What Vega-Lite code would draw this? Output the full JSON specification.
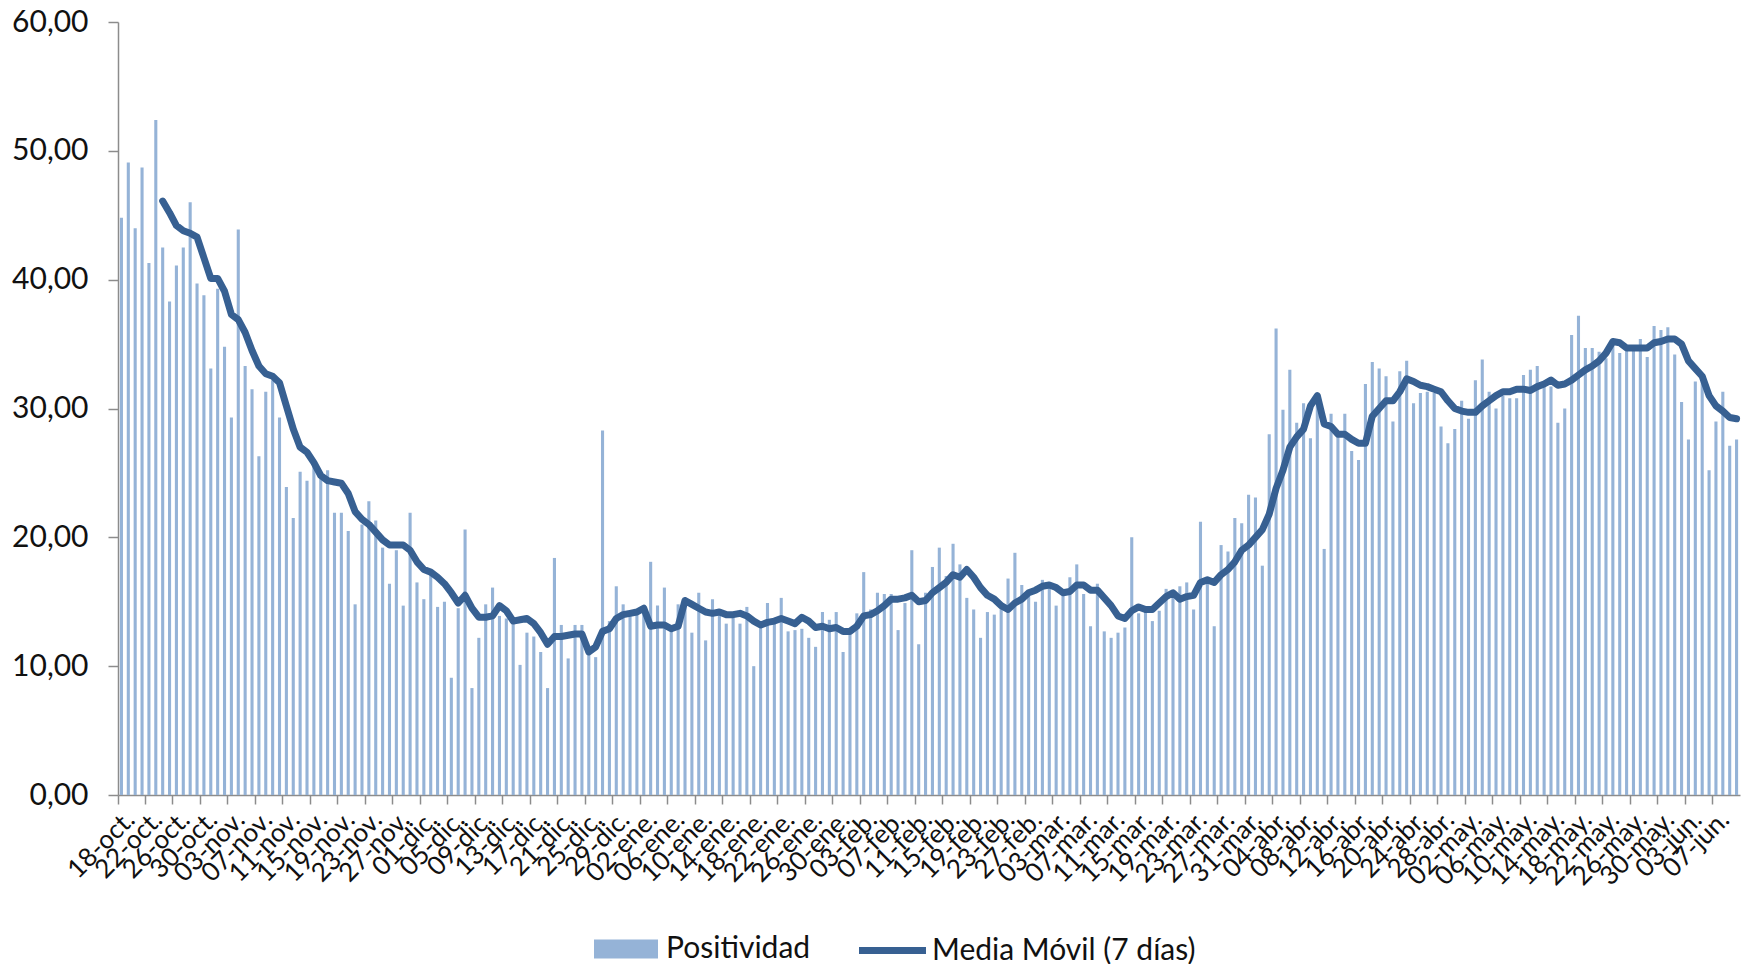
{
  "$schema": "https://vega.github.io/schema/vega-lite/v6.json",
  "width": 1622,
  "height": 773,
  "autosize": {"type": "none"},
  "padding": {"left": 118, "top": 22, "right": 8, "bottom": 169},
  "background": "white",
  "config": {
    "view": {"stroke": null},
    "font": "Lato",
    "legend": {"padding": 0, "labelLimit": 0},
    "axisY": {
      "title": null,
      "grid": false,
      "labelFont": "Lato",
      "labelFontSize": 30,
      "labelColor": "#111111",
      "labelPadding": 20,
      "tickColor": "#8c8c8c",
      "tickSize": 10,
      "tickWidth": 1.5,
      "domainColor": "#8c8c8c",
      "domainWidth": 1.5
    }
  },
  "data": {"values": [
    {"d":"18-oct.","p":44.8},{"d":"19-oct.","p":49.1},{"d":"20-oct.","p":44.0},{"d":"21-oct.","p":48.7},{"d":"22-oct.","p":41.3},{"d":"23-oct.","p":52.4},
    {"d":"24-oct.","p":42.5,"m":46.1},{"d":"25-oct.","p":38.3,"m":45.2},{"d":"26-oct.","p":41.1,"m":44.2},{"d":"27-oct.","p":42.5,"m":43.8},{"d":"28-oct.","p":46.0,"m":43.6},{"d":"29-oct.","p":39.7,"m":43.3},{"d":"30-oct.","p":38.8,"m":41.7},{"d":"31-oct.","p":33.1,"m":40.1},
    {"d":"01-nov.","p":39.3,"m":40.1},{"d":"02-nov.","p":34.8,"m":39.1},{"d":"03-nov.","p":29.3,"m":37.3},{"d":"04-nov.","p":43.9,"m":36.9},{"d":"05-nov.","p":33.3,"m":35.9},{"d":"06-nov.","p":31.5,"m":34.5},{"d":"07-nov.","p":26.3,"m":33.3},{"d":"08-nov.","p":31.3,"m":32.7},{"d":"09-nov.","p":32.2,"m":32.5},{"d":"10-nov.","p":29.3,"m":32.0},
    {"d":"11-nov.","p":23.9,"m":30.2},{"d":"12-nov.","p":21.5,"m":28.4},{"d":"13-nov.","p":25.1,"m":27.0},{"d":"14-nov.","p":24.4,"m":26.6},{"d":"15-nov.","p":25.5,"m":25.8},{"d":"16-nov.","p":24.6,"m":24.8},{"d":"17-nov.","p":25.2,"m":24.4},{"d":"18-nov.","p":21.9,"m":24.3},{"d":"19-nov.","p":21.9,"m":24.2},{"d":"20-nov.","p":20.5,"m":23.4},
    {"d":"21-nov.","p":14.8,"m":22.0},{"d":"22-nov.","p":21.0,"m":21.4},{"d":"23-nov.","p":22.8,"m":21.0},{"d":"24-nov.","p":21.3,"m":20.4},{"d":"25-nov.","p":19.2,"m":19.8},{"d":"26-nov.","p":16.4,"m":19.4},{"d":"27-nov.","p":19.0,"m":19.4},{"d":"28-nov.","p":14.7,"m":19.4},{"d":"29-nov.","p":21.9,"m":19.0},{"d":"30-nov.","p":16.5,"m":18.1},
    {"d":"01-dic.","p":15.2,"m":17.5},{"d":"02-dic.","p":17.1,"m":17.3},{"d":"03-dic.","p":14.6,"m":16.9},{"d":"04-dic.","p":15.0,"m":16.4},{"d":"05-dic.","p":9.1,"m":15.7},{"d":"06-dic.","p":14.5,"m":14.9},{"d":"07-dic.","p":20.6,"m":15.5},{"d":"08-dic.","p":8.3,"m":14.5},{"d":"09-dic.","p":12.2,"m":13.8},{"d":"10-dic.","p":14.8,"m":13.8},
    {"d":"11-dic.","p":16.1,"m":13.9},{"d":"12-dic.","p":13.9,"m":14.7},{"d":"13-dic.","p":13.7,"m":14.3},{"d":"14-dic.","p":13.3,"m":13.5},{"d":"15-dic.","p":10.1,"m":13.6},{"d":"16-dic.","p":12.6,"m":13.7},{"d":"17-dic.","p":12.3,"m":13.3},{"d":"18-dic.","p":11.1,"m":12.6},{"d":"19-dic.","p":8.3,"m":11.7},{"d":"20-dic.","p":18.4,"m":12.3},
    {"d":"21-dic.","p":13.2,"m":12.3},{"d":"22-dic.","p":10.6,"m":12.4},{"d":"23-dic.","p":13.2,"m":12.5},{"d":"24-dic.","p":13.2,"m":12.5},{"d":"25-dic.","p":11.2,"m":11.1},{"d":"26-dic.","p":10.7,"m":11.5},{"d":"27-dic.","p":28.3,"m":12.7},{"d":"28-dic.","p":13.5,"m":12.9},{"d":"29-dic.","p":16.2,"m":13.7},{"d":"30-dic.","p":14.8,"m":14.0},{"d":"31-dic.","p":14.3,"m":14.1},
    {"d":"01-ene.","p":14.0,"m":14.2},{"d":"02-ene.","p":14.5,"m":14.5},{"d":"03-ene.","p":18.1,"m":13.1},{"d":"04-ene.","p":14.7,"m":13.2},{"d":"05-ene.","p":16.1,"m":13.2},{"d":"06-ene.","p":13.1,"m":12.9},{"d":"07-ene.","p":14.8,"m":13.1},{"d":"08-ene.","p":15.2,"m":15.1},{"d":"09-ene.","p":12.6,"m":14.8},{"d":"10-ene.","p":15.7,"m":14.5},
    {"d":"11-ene.","p":12.0,"m":14.2},{"d":"12-ene.","p":15.2,"m":14.1},{"d":"13-ene.","p":14.1,"m":14.2},{"d":"14-ene.","p":13.3,"m":14.0},{"d":"15-ene.","p":13.9,"m":14.0},{"d":"16-ene.","p":13.3,"m":14.1},{"d":"17-ene.","p":14.6,"m":13.9},{"d":"18-ene.","p":10.0,"m":13.5},{"d":"19-ene.","p":13.3,"m":13.2},{"d":"20-ene.","p":14.9,"m":13.4},
    {"d":"21-ene.","p":13.3,"m":13.5},{"d":"22-ene.","p":15.3,"m":13.7},{"d":"23-ene.","p":12.7,"m":13.5},{"d":"24-ene.","p":12.8,"m":13.3},{"d":"25-ene.","p":12.9,"m":13.8},{"d":"26-ene.","p":12.2,"m":13.5},{"d":"27-ene.","p":11.5,"m":13.0},{"d":"28-ene.","p":14.2,"m":13.1},{"d":"29-ene.","p":13.6,"m":12.9},{"d":"30-ene.","p":14.2,"m":13.0},{"d":"31-ene.","p":11.1,"m":12.7},
    {"d":"01-feb.","p":12.9,"m":12.7},{"d":"02-feb.","p":14.1,"m":13.1},{"d":"03-feb.","p":17.3,"m":13.9},{"d":"04-feb.","p":14.4,"m":14.0},{"d":"05-feb.","p":15.7,"m":14.3},{"d":"06-feb.","p":15.6,"m":14.7},{"d":"07-feb.","p":15.6,"m":15.2},{"d":"08-feb.","p":12.8,"m":15.2},{"d":"09-feb.","p":14.9,"m":15.3},{"d":"10-feb.","p":19.0,"m":15.5},
    {"d":"11-feb.","p":11.7,"m":15.0},{"d":"12-feb.","p":15.7,"m":15.1},{"d":"13-feb.","p":17.7,"m":15.7},{"d":"14-feb.","p":19.2,"m":16.1},{"d":"15-feb.","p":17.0,"m":16.5},{"d":"16-feb.","p":19.5,"m":17.1},{"d":"17-feb.","p":17.9,"m":16.9},{"d":"18-feb.","p":15.3,"m":17.5},{"d":"19-feb.","p":14.4,"m":16.9},{"d":"20-feb.","p":12.2,"m":16.1},
    {"d":"21-feb.","p":14.2,"m":15.5},{"d":"22-feb.","p":14.0,"m":15.2},{"d":"23-feb.","p":14.7,"m":14.7},{"d":"24-feb.","p":16.8,"m":14.4},{"d":"25-feb.","p":18.8,"m":14.9},{"d":"26-feb.","p":16.3,"m":15.2},{"d":"27-feb.","p":15.7,"m":15.7},{"d":"28-feb.","p":15.0,"m":15.9},
    {"d":"01-mar.","p":16.7,"m":16.2},{"d":"02-mar.","p":16.5,"m":16.3},{"d":"03-mar.","p":14.7,"m":16.1},{"d":"04-mar.","p":15.9,"m":15.7},{"d":"05-mar.","p":16.9,"m":15.8},{"d":"06-mar.","p":17.9,"m":16.3},{"d":"07-mar.","p":15.6,"m":16.3},{"d":"08-mar.","p":13.1,"m":15.9},{"d":"09-mar.","p":16.4,"m":15.9},{"d":"10-mar.","p":12.7,"m":15.3},
    {"d":"11-mar.","p":12.2,"m":14.7},{"d":"12-mar.","p":12.6,"m":13.9},{"d":"13-mar.","p":13.0,"m":13.7},{"d":"14-mar.","p":20.0,"m":14.3},{"d":"15-mar.","p":14.1,"m":14.6},{"d":"16-mar.","p":14.3,"m":14.4},{"d":"17-mar.","p":13.5,"m":14.4},{"d":"18-mar.","p":14.3,"m":14.9},{"d":"19-mar.","p":16.0,"m":15.4},{"d":"20-mar.","p":15.9,"m":15.7},
    {"d":"21-mar.","p":16.2,"m":15.2},{"d":"22-mar.","p":16.5,"m":15.4},{"d":"23-mar.","p":14.4,"m":15.5},{"d":"24-mar.","p":21.2,"m":16.5},{"d":"25-mar.","p":16.5,"m":16.7},{"d":"26-mar.","p":13.1,"m":16.5},{"d":"27-mar.","p":19.4,"m":17.1},{"d":"28-mar.","p":18.9,"m":17.5},{"d":"29-mar.","p":21.5,"m":18.1},{"d":"30-mar.","p":21.1,"m":19.0},{"d":"31-mar.","p":23.3,"m":19.4},
    {"d":"01-abr.","p":23.1,"m":20.0},{"d":"02-abr.","p":17.8,"m":20.6},{"d":"03-abr.","p":28.0,"m":21.8},{"d":"04-abr.","p":36.2,"m":23.8},{"d":"05-abr.","p":29.9,"m":25.2},{"d":"06-abr.","p":33.0,"m":27.0},{"d":"07-abr.","p":28.9,"m":27.8},{"d":"08-abr.","p":30.4,"m":28.4},{"d":"09-abr.","p":27.7,"m":30.2},{"d":"10-abr.","p":30.6,"m":31.0},
    {"d":"11-abr.","p":19.1,"m":28.8},{"d":"12-abr.","p":29.6,"m":28.6},{"d":"13-abr.","p":27.8,"m":28.0},{"d":"14-abr.","p":29.6,"m":28.0},{"d":"15-abr.","p":26.7,"m":27.6},{"d":"16-abr.","p":26.0,"m":27.3},{"d":"17-abr.","p":31.9,"m":27.3},{"d":"18-abr.","p":33.6,"m":29.4},{"d":"19-abr.","p":33.1,"m":30.0},{"d":"20-abr.","p":32.5,"m":30.6},
    {"d":"21-abr.","p":29.0,"m":30.6},{"d":"22-abr.","p":32.9,"m":31.3},{"d":"23-abr.","p":33.7,"m":32.3},{"d":"24-abr.","p":30.4,"m":32.1},{"d":"25-abr.","p":31.2,"m":31.8},{"d":"26-abr.","p":31.3,"m":31.7},{"d":"27-abr.","p":31.2,"m":31.5},{"d":"28-abr.","p":28.6,"m":31.3},{"d":"29-abr.","p":27.3,"m":30.6},{"d":"30-abr.","p":28.4,"m":30.0},
    {"d":"01-may.","p":30.6,"m":29.8},{"d":"02-may.","p":29.2,"m":29.7},{"d":"03-may.","p":32.2,"m":29.7},{"d":"04-may.","p":33.8,"m":30.2},{"d":"05-may.","p":31.3,"m":30.6},{"d":"06-may.","p":30.0,"m":31.0},{"d":"07-may.","p":31.0,"m":31.3},{"d":"08-may.","p":30.8,"m":31.3},{"d":"09-may.","p":30.8,"m":31.5},{"d":"10-may.","p":32.6,"m":31.5},
    {"d":"11-may.","p":33.0,"m":31.4},{"d":"12-may.","p":33.3,"m":31.7},{"d":"13-may.","p":31.7,"m":31.9},{"d":"14-may.","p":31.7,"m":32.2},{"d":"15-may.","p":28.9,"m":31.8},{"d":"16-may.","p":30.0,"m":31.9},{"d":"17-may.","p":35.7,"m":32.2},{"d":"18-may.","p":37.2,"m":32.6},{"d":"19-may.","p":34.7,"m":33.0},{"d":"20-may.","p":34.7,"m":33.3},
    {"d":"21-may.","p":34.4,"m":33.7},{"d":"22-may.","p":33.9,"m":34.3},{"d":"23-may.","p":35.3,"m":35.2},{"d":"24-may.","p":34.3,"m":35.1},{"d":"25-may.","p":34.5,"m":34.7},{"d":"26-may.","p":34.5,"m":34.7},{"d":"27-may.","p":35.4,"m":34.7},{"d":"28-may.","p":34.0,"m":34.7},{"d":"29-may.","p":36.4,"m":35.1},{"d":"30-may.","p":36.1,"m":35.2},{"d":"31-may.","p":36.3,"m":35.4},
    {"d":"01-jun.","p":34.2,"m":35.4},{"d":"02-jun.","p":30.5,"m":35.0},{"d":"03-jun.","p":27.6,"m":33.7},{"d":"04-jun.","p":32.1,"m":33.1},{"d":"05-jun.","p":32.7,"m":32.5},{"d":"06-jun.","p":25.2,"m":31.0},{"d":"07-jun.","p":29.0,"m":30.2},{"d":"08-jun.","p":31.3,"m":29.8},{"d":"09-jun.","p":27.1,"m":29.3},{"d":"10-jun.","p":27.6,"m":29.2}
  ]},
  "encoding": {
    "x": {
      "field": "d", "type": "ordinal", "sort": null,
      "scale": {"paddingInner": 0, "paddingOuter": 0},
      "axis": {
        "title": null,
        "values": ["18-oct.","22-oct.","26-oct.","30-oct.","03-nov.","07-nov.","11-nov.","15-nov.","19-nov.","23-nov.","27-nov.","01-dic.","05-dic.","09-dic.","13-dic.","17-dic.","21-dic.","25-dic.","29-dic.","02-ene.","06-ene.","10-ene.","14-ene.","18-ene.","22-ene.","26-ene.","30-ene.","03-feb.","07-feb.","11-feb.","15-feb.","19-feb.","23-feb.","27-feb.","03-mar.","07-mar.","11-mar.","15-mar.","19-mar.","23-mar.","27-mar.","31-mar.","04-abr.","08-abr.","12-abr.","16-abr.","20-abr.","24-abr.","28-abr.","02-may.","06-may.","10-may.","14-may.","18-may.","22-may.","26-may.","30-may.","03-jun.","07-jun."],
        "bandPosition": 0,
        "labelAngle": -45,
        "labelFont": "Lato",
        "labelFontSize": 26,
        "labelColor": "#111111",
        "labelPadding": 2,
        "labelOverlap": false,
        "tickColor": "#8c8c8c",
        "tickSize": 9,
        "tickWidth": 1.5,
        "domainColor": "#8c8c8c",
        "domainWidth": 1.5
      }
    },
    "y": {
      "type": "quantitative",
      "scale": {"domain": [0, 60]},
      "axis": {
        "values": [0, 10, 20, 30, 40, 50, 60],
        "labelExpr": "replace(format(datum.value, '.2f'), '.', ',')"
      }
    }
  },
  "layer": [
    {
      "mark": {"type": "bar", "width": {"band": 0.45}},
      "encoding": {
        "y": {
          "field": "p", "type": "quantitative",
          "scale": {"domain": [0, 60]},
          "axis": {
            "values": [0, 10, 20, 30, 40, 50, 60],
            "labelExpr": "replace(format(datum.value, '.2f'), '.', ',')"
          }
        },
        "fill": {
          "datum": "Positividad", "type": "nominal",
          "scale": {"range": ["#95B3D7"]},
          "legend": {
            "title": null,
            "orient": "none",
            "legendX": 476,
            "legendY": 911,
            "symbolType": "M-2,-0.6L2,-0.6L2,0.6L-2,0.6Z",
            "symbolSize": 1024,
            "symbolStrokeWidth": 0,
            "symbolOffset": 16,
            "labelFont": "Lato",
            "labelFontSize": 30,
            "labelColor": "#111111",
            "labelOffset": 24,
            "labelLimit": 0
          }
        }
      }
    },
    {
      "mark": {"type": "line", "strokeWidth": 7, "strokeCap": "round", "strokeJoin": "round"},
      "encoding": {
        "y": {
          "field": "m", "type": "quantitative",
          "scale": {"domain": [0, 60]},
          "axis": {
            "values": [0, 10, 20, 30, 40, 50, 60],
            "labelExpr": "replace(format(datum.value, '.2f'), '.', ',')"
          }
        },
        "stroke": {
          "datum": "Media Móvil (7 días)", "type": "nominal",
          "scale": {"range": ["#376092"]},
          "legend": {
            "title": null,
            "orient": "none",
            "legendX": 737,
            "legendY": 908,
            "symbolType": "M-2,0L2,0",
            "symbolSize": 1122,
            "symbolStrokeWidth": 7,
            "symbolOffset": 17,
            "labelFont": "Lato",
            "labelFontSize": 30,
            "labelColor": "#111111",
            "labelOffset": 19,
            "labelLimit": 0
          }
        }
      }
    }
  ]
}
